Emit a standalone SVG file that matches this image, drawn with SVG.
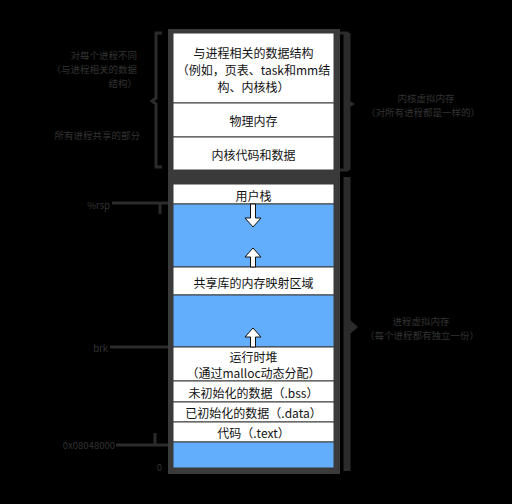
<svg xmlns="http://www.w3.org/2000/svg" width="512" height="504" viewBox="0 0 512 504">
<defs>
<style>
.box{fill:#fff;stroke:#3a3a3a;stroke-width:1}
.blue{fill:#63aefc;stroke:#3a3a3a;stroke-width:1}
.t{font-family:"Noto Sans CJK SC","Liberation Sans",sans-serif;font-size:12px;fill:#111;text-anchor:middle;dominant-baseline:central}
.side{font-family:"Noto Sans CJK SC","Liberation Sans",sans-serif;font-size:9.5px;fill:#333;dominant-baseline:central}
.dim{stroke:#2b2b2b;stroke-width:3;fill:none}
.arrow{fill:#fff;stroke:#111;stroke-width:1}
</style>
</defs>
<rect x="0" y="0" width="512" height="504" fill="#000"/>
<rect x="168" y="29" width="172" height="445" fill="#3a3a3a"/>
<g id="kernel-data"><rect class="box" x="173" y="33" width="161" height="70"/>
<text class="t" x="253.5" y="52">与进程相关的数据结构</text>
<text class="t" x="253.5" y="69">（例如，页表、task和mm结</text>
<text class="t" x="253.5" y="86">构、内核栈）</text></g>
<g id="phys-mem"><rect class="box" x="173" y="103" width="161" height="34"/><text class="t" x="253.5" y="120">物理内存</text></g>
<g id="kernel-code"><rect class="box" x="173" y="137" width="161" height="33"/><text class="t" x="253.5" y="154">内核代码和数据</text></g>
<g id="user-stack"><rect class="box" x="173" y="184" width="161" height="20"/><text class="t" x="253.5" y="195">用户栈</text></g>
<g id="gap1"><rect class="blue" x="173" y="204" width="161" height="63"/></g>
<g id="shared-lib"><rect class="box" x="173" y="267" width="161" height="28"/><text class="t" x="253.5" y="282">共享库的内存映射区域</text></g>
<g id="gap2"><rect class="blue" x="173" y="295" width="161" height="52"/></g>
<g id="heap"><rect class="box" x="173" y="347" width="161" height="34"/>
<text class="t" x="253.5" y="356">运行时堆</text>
<text class="t" x="253.5" y="372">（通过malloc动态分配）</text></g>
<g id="bss"><rect class="box" x="173" y="381" width="161" height="21"/><text class="t" x="253.5" y="392">未初始化的数据（.bss）</text></g>
<g id="data"><rect class="box" x="173" y="402" width="161" height="20"/><text class="t" x="253.5" y="412">已初始化的数据（.data）</text></g>
<g id="text-seg"><rect class="box" x="173" y="422" width="161" height="20"/><text class="t" x="253.5" y="432">代码（.text）</text></g>
<g id="bottom"><rect class="blue" x="173" y="442" width="161" height="26"/></g>
<g id="connectors">
<path class="arrow" d="M250.5,204 V218 H245 L253,227 L261,218 H255.5 V204 Z"/>
<path class="arrow" d="M250.5,267 V257 H245 L253,248 L261,257 H255.5 V267 Z"/>
<path class="arrow" d="M250.5,347 V337 H245 L253,328 L261,337 H255.5 V347 Z"/>
<path class="dim" d="M162,33 H156 V98 L152,101 L156,104 V167 H162"/>
<path class="dim" d="M340,33 H347 V101 L352,104 L347,107 V170 H340"/>
<path d="M347,33 V170" stroke="#2b2b2b" stroke-width="7"/>
<path d="M347,177 V471" stroke="#2b2b2b" stroke-width="7"/>
<path d="M350,320 L358,327 L350,334 Z" fill="#2b2b2b"/>
<path class="dim" d="M112,203 H168 M160,203 V214"/>
<path class="dim" d="M110,347 H168"/>
<path class="dim" d="M116,445 H168 M155,445 V433"/>
</g>
<g id="labels">
<text class="side" x="137" y="55" text-anchor="end">对每个进程不同</text>
<text class="side" x="137" y="69" text-anchor="end">（与进程相关的数据</text>
<text class="side" x="137" y="83" text-anchor="end">结构）</text>
<text class="side" x="140" y="135" text-anchor="end">所有进程共享的部分</text>
<text class="side" x="426" y="98" text-anchor="middle">内核虚拟内存</text>
<text class="side" x="423" y="112" text-anchor="middle">（对所有进程都是一样的）</text>
<text class="side" x="421" y="321" text-anchor="middle">进程虚拟内存</text>
<text class="side" x="422" y="335" text-anchor="middle">（每个进程都有独立一份）</text>
<text class="side" x="110" y="205" text-anchor="end">%rsp</text>
<text class="side" x="108" y="348" text-anchor="end">brk</text>
<text class="side" x="115" y="445" text-anchor="end" font-size="11">0x08048000</text>
<text class="side" x="162" y="467" text-anchor="end">0</text>
</g>
</svg>
